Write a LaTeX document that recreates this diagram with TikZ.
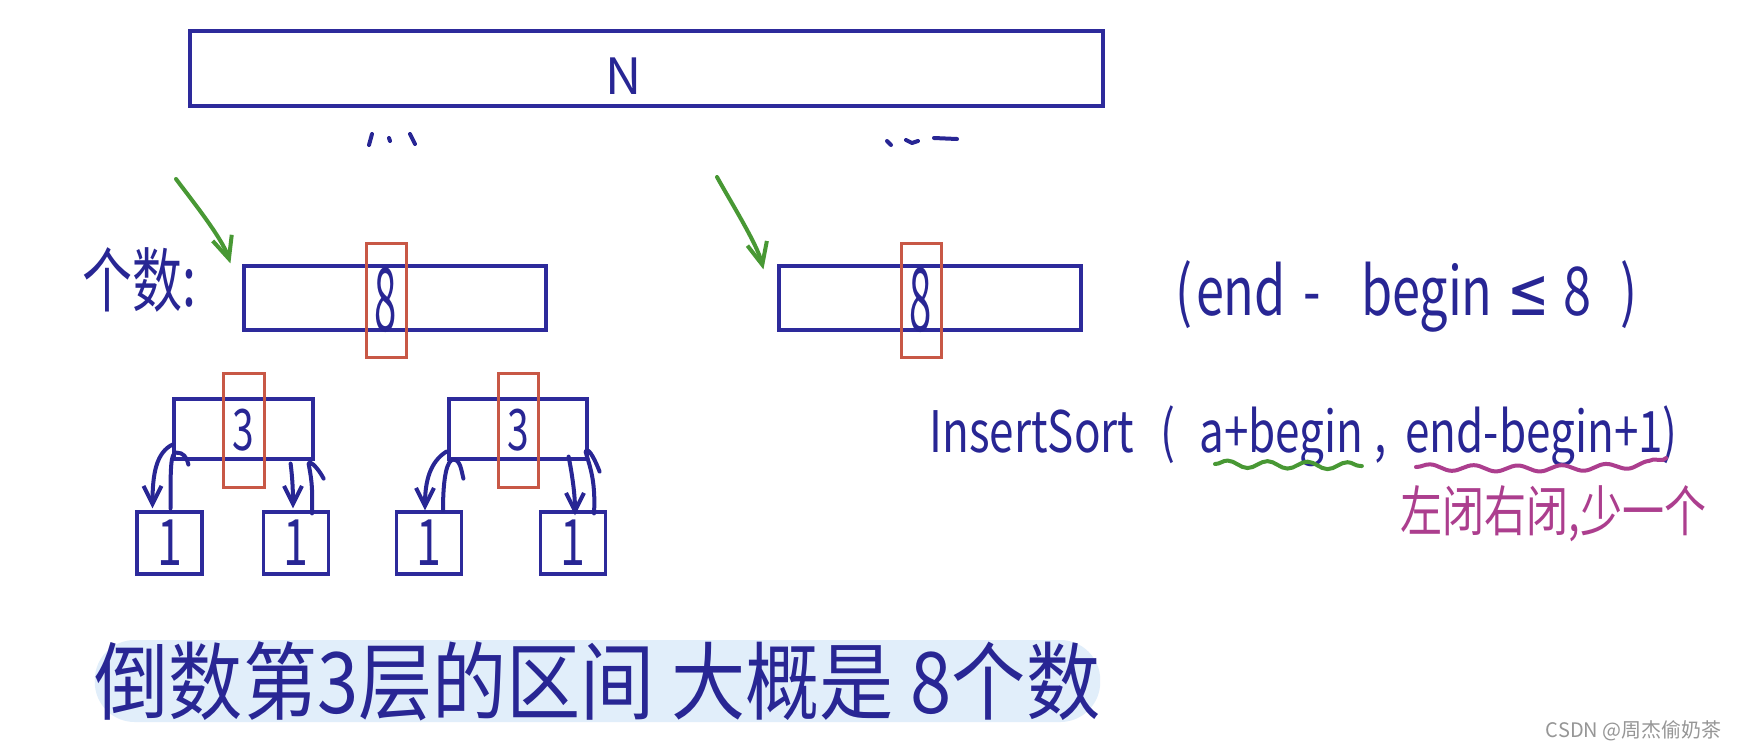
\documentclass[tikz,border=0pt]{standalone}
\usepackage{fontspec}
\usepackage{graphicx}
\setmainfont{Noto Sans CJK SC}
\newfontfamily\dejavu{DejaVu Sans}
\usetikzlibrary{arrows.meta,calc,decorations.pathmorphing}
\definecolor{ink}{RGB}{40,38,148}
\definecolor{boxblue}{RGB}{45,42,155}
\definecolor{redbox}{RGB}{200,88,70}
\definecolor{greenink}{RGB}{72,152,52}
\definecolor{purpleink}{RGB}{172,62,142}
\definecolor{hilite}{RGB}{225,238,250}
\definecolor{wmgray}{RGB}{150,150,150}
\newcommand{\myfs}[1]{\fontsize{#1}{#1}\selectfont}
\tikzset{
  box/.style={draw=boxblue, line width=1.6pt, inner sep=0pt, text=ink},
  redmark/.style={draw=redbox, line width=1.5pt, inner sep=0pt, text=ink},
  hand/.style={text=ink, inner sep=0pt},
  stroke/.style={draw=ink, line width=2pt, line cap=round, line join=round},
  downarrow/.style={stroke, -{Straight Barb[length=9pt,width=9pt]}},
  garrow/.style={draw=greenink, line width=2pt, line cap=round, -{Straight Barb[length=11pt,width=10pt]}},
  wavy/.style={line width=2pt, line cap=round, decorate, decoration={snake, segment length=20pt, amplitude=1.8pt}},
}
\begin{document}
\begin{tikzpicture}[x=0.5pt,y=-0.5pt]
\fill[white] (0,0) rectangle (1738,750);
\useasboundingbox (0,0) rectangle (1738,750);

% top box
\node[box, minimum width=456.5pt, minimum height=37.5pt] (top) at (646.5,68.5) {};
\node[hand] (topN) at (624,76) {\myfs{25}N};

% ellipsis marks
\draw[stroke] (372,134) -- (369,145);
\draw[stroke] (389,138) -- (390,141);
\draw[stroke] (410,134) -- (415,144);
\draw[stroke] (887,141) -- (891,145);
\draw[stroke] (906,140) -- (912,143) -- (918,141);
\draw[stroke] (934,138) -- (957,139);

% level 8 boxes
\node[box, minimum width=151pt, minimum height=32pt] (b8l) at (395,298) {};
\node[box, minimum width=151pt, minimum height=32pt] (b8r) at (930,298) {};
\node[redmark, minimum width=20pt, minimum height=57pt] (r8l) at (386,300) {\scalebox{0.5}[1.1]{\myfs{40}8}};
\node[redmark, minimum width=20pt, minimum height=57pt] (r8r) at (921,300) {\scalebox{0.5}[1.1]{\myfs{40}8}};

% label
\node[hand, anchor=west] (cnt) at (82,280) {\scalebox{1}[1.4]{\myfs{25}个数:}};

% green arrows
\coordinate (g1) at (176,179);
\coordinate (g2) at (717,177);
\draw[garrow] (g1) .. controls +(15,20) and +(-8,-25) .. ($(b8l.north west)+(-12,-1)$);
\draw[garrow] (g2) .. controls +(12,22) and +(-6,-25) .. ($(b8r.north west)+(-14,5)$);

% level 3 boxes
\node[box, minimum width=69.5pt, minimum height=30pt] (b3l) at (243.5,429) {};
\node[box, minimum width=69pt, minimum height=30pt] (b3r) at (518,429) {};
\node[redmark, minimum width=20.5pt, minimum height=57pt] (r3l) at (243.5,430) {\scalebox{0.75}[1.1]{\myfs{26}3}};
\node[redmark, minimum width=20pt, minimum height=57pt] (r3r) at (518,430) {\scalebox{0.75}[1.1]{\myfs{26}3}};

% leaves
\node[box, minimum width=32.5pt, minimum height=31pt] (l1a) at (169.5,543) {\scalebox{0.7}[1]{\myfs{32}1}};
\node[box, minimum width=32.5pt, minimum height=31pt] (l1b) at (296,543) {\scalebox{0.7}[1]{\myfs{32}1}};
\node[box, minimum width=32.5pt, minimum height=31pt] (l1c) at (429,543) {\scalebox{0.7}[1]{\myfs{32}1}};
\node[box, minimum width=32.5pt, minimum height=31pt] (l1d) at (573,543) {\scalebox{0.7}[1]{\myfs{32}1}};

% tree arrows, left pair
\draw[downarrow] ($(b3l.south west)+(0,-16)$) .. controls +(-16,8) and +(0,-35) .. ($(l1a.north)+(-17,-2)$);
\draw[stroke] ($(l1a.north)+(1,-2)$) .. controls +(0,-40) and +(-6,0) .. ($(b3l.south west)+(4,-8)$) .. controls +(7,0) and +(-2,-8) .. ($(b3l.south west)+(16,4)$);
\draw[downarrow] ($(b3l.south east)+(-24,3)$) .. controls +(2,15) and +(0,-15) .. ($(l1b.north)+(-3,-2)$);
\draw[stroke] ($(l1b.north)+(16,3)$) .. controls +(1,-30) and +(2,12) .. ($(b3l.south east)+(-6,3)$) .. controls +(2,-4) and +(-4,-8) .. ($(b3l.south east)+(9,18)$);

% tree arrows, right pair
\draw[downarrow] ($(b3r.south west)+(-1,-9)$) .. controls +(-16,10) and +(0,-30) .. ($(l1c.north)+(-4,0)$);
\draw[stroke] ($(l1c.north)+(14,0)$) .. controls +(0,-35) and +(-6,0) .. ($(b3r.south west)+(6,-1)$) .. controls +(7,0) and +(-2,-8) .. ($(b3r.south west)+(16,18)$);
\draw[downarrow] ($(b3r.south east)+(-20,-4)$) .. controls +(4,20) and +(0,-20) .. ($(l1d.north)+(2,5)$);
\draw[stroke] ($(l1d.north)+(21,3)$) .. controls +(2,-35) and +(3,12) .. ($(b3r.south east)+(-3,-9)$) .. controls +(3,-6) and +(-3,-8) .. ($(b3r.south east)+(11,11)$);

% right-hand text
\node[hand, anchor=base west] (cond) at (1175,315) {\scalebox{0.9}[1.2]{\myfs{28}(\hspace{2pt}end\hspace{10pt}-\hspace{22pt}begin\hspace{8pt}{\dejavu ≤}\hspace{8pt}8\hspace{16pt})}};
\node[hand, anchor=base west] (ins) at (929,452) {\scalebox{1}[1.3]{\myfs{22}InsertSort\hspace{13pt}(}};
\node[hand, anchor=base west] (arg1) at (1199,452) {\scalebox{1}[1.3]{\myfs{22}a+begin}};
\node[hand, anchor=base west] (comma) at (1374,452) {\scalebox{1}[1.3]{\myfs{22},}};
\node[hand, anchor=base west] (arg2) at (1405,452) {\scalebox{1}[1.3]{\myfs{22}end-begin+1)}};
\draw[greenink, wavy] ($(arg1.base west)+(16,12)$) -- ($(arg1.base east)+(-2,14)$);
\draw[purpleink, wavy, decoration={snake, segment length=22pt, amplitude=1.5pt}] ($(arg2.base west)+(11,15)$) .. controls +(80,2) and +(-30,12) .. ($(arg2.base east)+(-12,6)$);
\node[anchor=west, text=purpleink, inner sep=0pt] (note) at (1400,514) {\scalebox{1}[1.3]{\myfs{21}左闭右闭,少一个}};

% bottom highlight
\node[fill=hilite, rounded corners=20pt, minimum width=500.5pt, minimum height=41pt, inner sep=0pt, text=ink] (band) at (597.5,681) {\scalebox{1.03}[1.18]{\myfs{36}倒数第3层的区间 大概是 8个数}};

% watermark
\node[anchor=east, text=wmgray, inner sep=0pt] (wm) at (1722,731) {\myfs{10}CSDN @周杰偷奶茶};
\end{tikzpicture}
\end{document}
